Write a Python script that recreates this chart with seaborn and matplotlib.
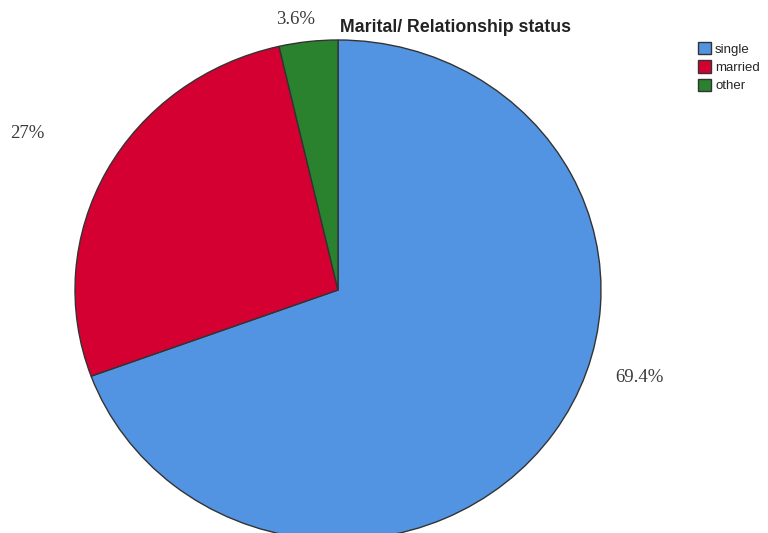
import matplotlib
matplotlib.use("Agg")
import matplotlib.pyplot as plt
import seaborn as sns
from matplotlib.patches import Patch

sns.set_theme(style="white")

categories = ["single", "married", "other"]
percents = [69.4, 27.0, 3.6]
pct_labels = ["69.4%", "27%", "3.6%"]
colors = ["#5294E2", "#D50032", "#2A822E"]
title = "Marital/ Relationship status"

fig = plt.figure(figsize=(7.68, 5.33), dpi=100)
ax = fig.add_axes([75 / 768, -7 / 533, 526 / 768, 500 / 533])
wedges, _ = ax.pie(percents, colors=colors, startangle=90, counterclock=False,
                   wedgeprops=dict(edgecolor="#333333", linewidth=1.0))
ax.set_aspect("auto")
ax.set_xlim(-1, 1)
ax.set_ylim(-1, 1)
ax.set_axis_off()
for w in wedges:
    w.set_clip_on(False)

# percentage labels (SPSS-style placement)
label_pos = [(1.148, -0.348), (-1.18, 0.628), (-0.163, 1.08)]
for (x, y), lab in zip(label_pos, pct_labels):
    ax.text(x, y, lab, ha="center", va="center", fontsize=13.5,
            family="Liberation Serif", color="#3a3a3a", clip_on=False)

fig.text(455 / 768, 1 - 28 / 533, title, ha="center", va="center",
         fontsize=12.8, fontweight="bold", family="Liberation Sans", color="#222222")

handles = [Patch(facecolor=c, edgecolor="#333333", linewidth=1.0) for c in colors]
fig.legend(handles, categories, loc="upper left", bbox_to_anchor=(698 / 768, 1 - 42 / 533),
           frameon=False, prop={"family": "Liberation Sans", "size": 9.5},
           handlelength=1.0, handleheight=1.05, handletextpad=0.3, labelspacing=0.36,
           borderaxespad=0, borderpad=0)

fig.savefig("out.png", dpi=100)
